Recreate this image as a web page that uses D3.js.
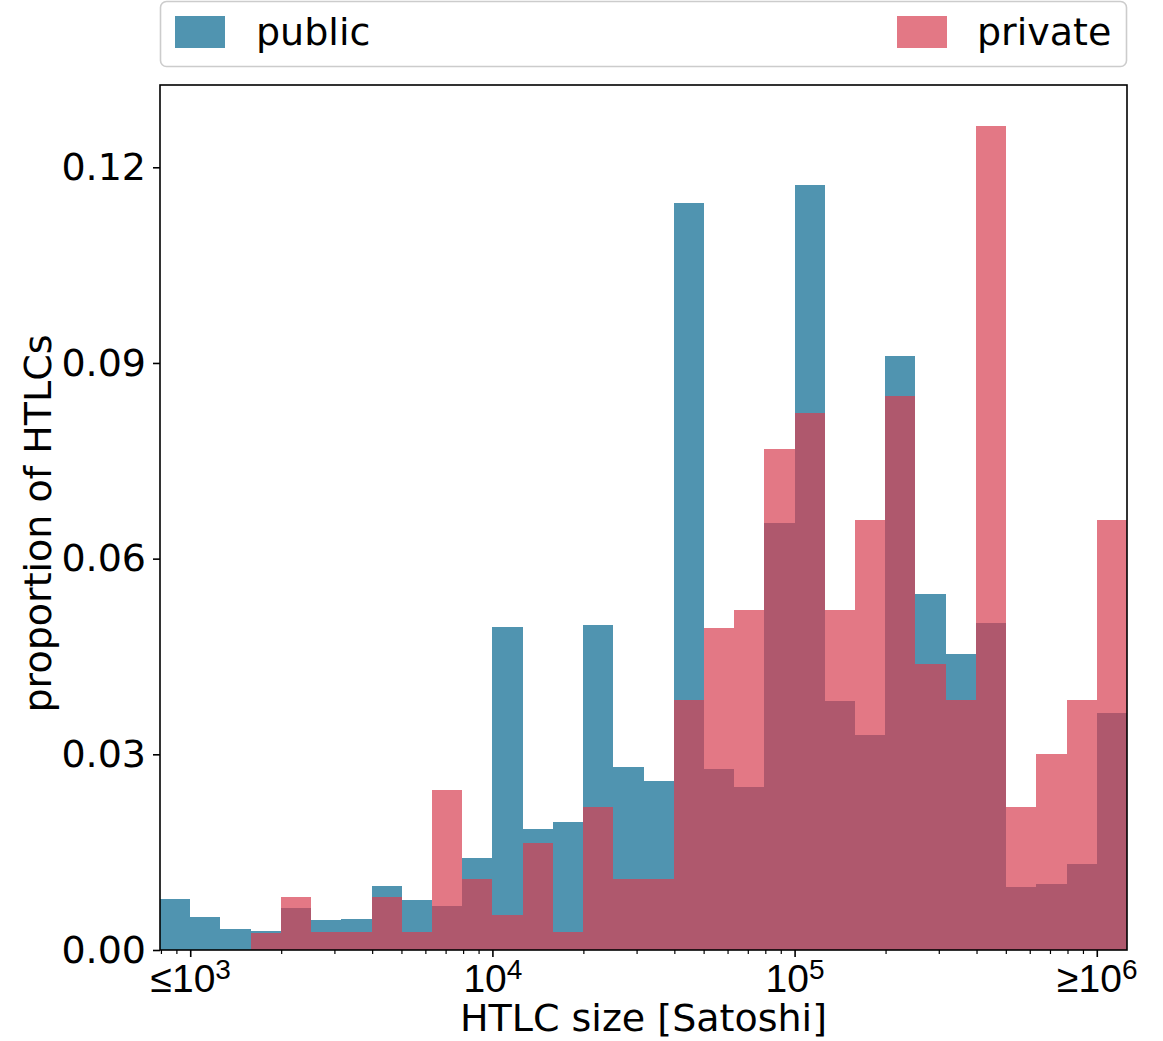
<!DOCTYPE html>
<html>
<head>
<meta charset="utf-8">
<script src="https://cdn.jsdelivr.net/npm/d3@7"></script>
<style>
body{margin:0;background:#fff;}
svg{display:block;font-family:"DejaVu Sans",sans-serif;}
</style>
</head>
<body>
<svg width="1163" height="1041"></svg>
<script>
(()=>{

//bins: log10 edges from 10^2.9 to 10^6.1, step 0.1
let binLo = 2.9, binHi = 6.1, binStep = 0.1;

//proportion of HTLCs per bin
let publicVals = [0.0078,0.0051,0.0032,0.0029,0.0065,0.0046,0.0048,0.0098,0.0077,0.0068,
	0.0141,0.0495,0.0186,0.0196,0.0499,0.0280,0.0259,0.1145,0.0277,0.0250,
	0.0654,0.1173,0.0381,0.0330,0.0910,0.0546,0.0454,0.0502,0.0097,0.0101,
	0.0132,0.0364];
let privateVals = [0,0,0,0.0026,0.0081,0.0027,0.0027,0.0081,0.0027,0.0246,
	0.0109,0.0054,0.0164,0.0027,0.0219,0.0109,0.0109,0.0384,0.0493,0.0521,
	0.0768,0.0823,0.0521,0.0659,0.0850,0.0439,0.0383,0.1263,0.0219,0.0301,
	0.0384,0.0659];

let yTicks = [0, 0.03, 0.06, 0.09, 0.12];
let xMajor = [1e3, 1e4, 1e5, 1e6];
let xLabels = [["≤10","3"],["10","4"],["10","5"],["≥10","6"]];
let seriesNames = ["public","private"];
let colors = {public:"#05668e", private:"#d73e51"};

let svg = d3.select("svg");
let left = 160, right = 1127, top = 85, bottom = 950;
let fs = 38;

let x = d3.scaleLog()
	.domain([Math.pow(10,binLo), Math.pow(10,binHi)])
	.range([left, right]);
let y = d3.scaleLinear()
	.domain([0, d3.max(privateVals.concat(publicVals))*1.05])
	.range([bottom, top]);

//bin edges (categories)
let nb = publicVals.length;
let edges = d3.range(nb+1).map(i => Math.pow(10, binLo + i*binStep));

function bars(vals, name){
	svg.append("g")
		.selectAll("rect")
		.data(vals)
		.enter().append("rect")
		.attr("x", (d,i) => x(edges[i]))
		.attr("width", (d,i) => x(edges[i+1]) - x(edges[i]))
		.attr("y", d => y(d))
		.attr("height", d => y(0) - y(d))
		.attr("fill", colors[name])
		.attr("fill-opacity", 0.7)
		.attr("shape-rendering", "crispEdges");
}
bars(publicVals, "public");
bars(privateVals, "private");

//minor ticks on x
let minor = [];
for(let e=2;e<=6;e++){
	for(let m=2;m<10;m++){
		let v = m*Math.pow(10,e);
		if(v>=x.domain()[0] && v<=x.domain()[1]) minor.push(v);
	}
}
svg.append("g")
	.attr("transform", `translate(0,${bottom})`)
	.call(d3.axisBottom(x).tickValues(minor).tickSize(4).tickFormat(""))
	.call(g => g.select(".domain").remove())
	.call(g => g.selectAll("line").attr("stroke","#000").attr("stroke-width",1.2));

//major x ticks with superscript labels
let gx = svg.append("g")
	.attr("transform", `translate(0,${bottom})`)
	.call(d3.axisBottom(x).tickValues(xMajor).tickSize(7).tickFormat(""));
gx.select(".domain").remove();
gx.selectAll("line").attr("stroke","#000").attr("stroke-width",1.6);
gx.selectAll(".tick").each(function(d,i){
	let t = d3.select(this).append("text")
		.attr("y", 42)
		.attr("fill", "#000")
		.attr("font-size", 39)
		.attr("text-anchor", "middle");
	t.append("tspan").text(xLabels[i][0]);
	t.append("tspan").attr("dy", -13).attr("font-size", 28).text(xLabels[i][1]);
});

//y axis
let gy = svg.append("g")
	.attr("transform", `translate(${left},0)`)
	.call(d3.axisLeft(y).tickValues(yTicks).tickSize(7).tickPadding(7).tickFormat(d3.format(".2f")));
gy.select(".domain").remove();
gy.selectAll("line").attr("stroke","#000").attr("stroke-width",1.6);
gy.selectAll("text")
	.attr("font-size", fs)
	.attr("font-family", "DejaVu Sans")
	.attr("fill", "#000");

//frame
svg.append("rect")
	.attr("x", left).attr("y", top)
	.attr("width", right-left).attr("height", bottom-top)
	.attr("fill", "none")
	.attr("stroke", "#000")
	.attr("stroke-width", 1.6);

//axis titles
svg.append("text")
	.attr("x", (left+right)/2).attr("y", 1031)
	.attr("text-anchor", "middle")
	.attr("font-size", fs)
	.text("HTLC size [Satoshi]");
svg.append("text")
	.attr("transform", `translate(51,${(top+bottom)/2 + 6}) rotate(-90)`)
	.attr("text-anchor", "middle")
	.attr("font-size", fs)
	.text("proportion of HTLCs");

//legend
let lg = svg.append("g");
lg.append("rect")
	.attr("x", 160.5).attr("y", 1.5)
	.attr("width", 966).attr("height", 65)
	.attr("rx", 6)
	.attr("fill", "#fff")
	.attr("stroke", "#cccccc")
	.attr("stroke-width", 1.6);
let legendX = {public:[175,256], private:[897,977]};
seriesNames.forEach(n => {
	lg.append("rect")
		.attr("x", legendX[n][0]).attr("y", 16)
		.attr("width", 50).attr("height", 32)
		.attr("fill", colors[n])
		.attr("fill-opacity", 0.7);
	lg.append("text")
		.attr("x", legendX[n][1]).attr("y", 45)
		.attr("font-size", fs)
		.text(n);
});

})();
</script>
</body>
</html>
